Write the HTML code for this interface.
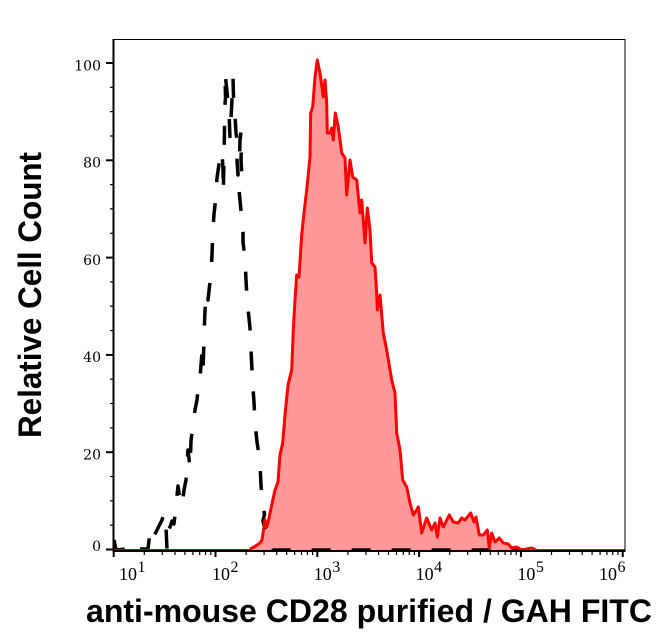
<!DOCTYPE html>
<html><head><meta charset="utf-8">
<style>
html,body{margin:0;padding:0;background:#fff;}
svg{display:block;}
</style></head>
<body>
<svg width="669" height="641" viewBox="0 0 669 641" xmlns="http://www.w3.org/2000/svg">
<rect width="669" height="641" fill="#fff"/>

<!-- red filled histogram -->
<polygon fill="#ff9999" stroke="none" points="250,551 250,549 254,547 257,545 260,543 262,540 265,520 266.7,527 268,523 271.7,505 275,490 278,482 280,455 282.7,443 285,415 288,385 291.7,370 293.3,330 295,300 296.7,275 299,277 301.7,235 304,213 306.7,190 310,157 310.7,113 312.7,107 315,77 317.3,60 320,73 323.3,97 325,80 326.7,103 327.3,133 330,133 331.7,128 333.3,140 335.3,113 338.3,127 341.7,153 345,158 346.7,195 350,160 352.7,177 356.7,180 360,213 361.7,200 365,243 367.3,208 370,230 371.7,263 375,267 376.7,293 377.3,310 380,295 383.3,333 386.7,350 391.7,380 395,393 396.7,433 400,450 402.7,480 406.7,487 410,503 413.3,515 416.7,510 418.3,507 421.7,533 426.7,518 431.7,530 435,523 437.3,537 440,518 443.3,527 449.3,515 453.3,522 458.3,523 461.7,518 465,520 470.7,513 474,522 476,517 479.3,535 483.3,535 487.3,530 489.3,548 491.7,533 495,542 499.3,538 503.3,543 508.3,544 511.7,548 516.7,547 521.7,550 531.7,548 536.7,551 625,551"/>

<!-- black dashed histogram -->
<polyline fill="none" stroke="#000" stroke-width="3.5" stroke-dasharray="19 21" stroke-linejoin="round" points="114,540 116,550 126,549 129,545 132,549 136,546 140,549 148,549 150,532 152,540 155,534 159,526 162,520 164,513 166,528 167,549 169,530 172,521 174,524 176,505 178,486 180,500 182,506 184,490 186,480 188,450 190,468 191,441 193,424 195,410 197,400 198,390 200,378 202,352 203,368 204,342 204.5,323 205,310 207,292 208,300 210,282 211,275 212,255 212.7,233 214,214 216,196 217,178 219,164 221,153 222,151 223,170 223.3,192 224,160 224.5,130 224.3,112 225.5,98 225,72 227,92 229,112 230,138 231,118 232,100 233,78 233.5,96 235,116 236,133 237.5,143 237,160 238,175 239.5,160 240,140 241,132 241.7,138 241,160 242,178 239,190 241.7,218 243,232 243,242 245,258 246,280 247.3,303 249,318 250,328 251,350 252,370 253,388 254,402 255,423 257,442 259,455 260,465 261,485 262.5,503 264.5,514 263,521 266.7,537 270,546 273,550 530,550"/>

<!-- dark red baseline at left -->
<line x1="114" y1="550.5" x2="252" y2="550.5" stroke="#a01010" stroke-width="3"/>

<!-- red line -->
<polyline fill="none" stroke="#ff0000" stroke-width="3" stroke-linejoin="round" points="250,549 254,547 257,545 260,543 262,540 265,520 266.7,527 268,523 271.7,505 275,490 278,482 280,455 282.7,443 285,415 288,385 291.7,370 293.3,330 295,300 296.7,275 299,277 301.7,235 304,213 306.7,190 310,157 310.7,113 312.7,107 315,77 317.3,60 320,73 323.3,97 325,80 326.7,103 327.3,133 330,133 331.7,128 333.3,140 335.3,113 338.3,127 341.7,153 345,158 346.7,195 350,160 352.7,177 356.7,180 360,213 361.7,200 365,243 367.3,208 370,230 371.7,263 375,267 376.7,293 377.3,310 380,295 383.3,333 386.7,350 391.7,380 395,393 396.7,433 400,450 402.7,480 406.7,487 410,503 413.3,515 416.7,510 418.3,507 421.7,533 426.7,518 431.7,530 435,523 437.3,537 440,518 443.3,527 449.3,515 453.3,522 458.3,523 461.7,518 465,520 470.7,513 474,522 476,517 479.3,535 483.3,535 487.3,530 489.3,548 491.7,533 495,542 499.3,538 503.3,543 508.3,544 511.7,548 516.7,547 521.7,550 531.7,548 536.7,550.5 625,550.5"/>

<!-- frame -->
<rect x="113.5" y="39.5" width="511.5" height="511.5" fill="none" stroke="#000" stroke-width="1"/>
<line x1="113.5" y1="39" x2="113.5" y2="552" stroke="#000" stroke-width="2"/>
<line x1="113" y1="551" x2="625.5" y2="551" stroke="#000" stroke-width="2"/>

<!-- y ticks -->
<g stroke="#000" stroke-width="2">
<line x1="106" y1="549.5" x2="113" y2="549.5"/>
<line x1="106" y1="452.2" x2="113" y2="452.2"/>
<line x1="106" y1="354.9" x2="113" y2="354.9"/>
<line x1="106" y1="257.6" x2="113" y2="257.6"/>
<line x1="106" y1="160.3" x2="113" y2="160.3"/>
<line x1="106" y1="63" x2="113" y2="63"/>
</g>
<g stroke="#000" stroke-width="1.2">
<line x1="110" y1="525.2" x2="113" y2="525.2"/><line x1="110" y1="500.8" x2="113" y2="500.8"/><line x1="110" y1="476.5" x2="113" y2="476.5"/>
<line x1="110" y1="427.9" x2="113" y2="427.9"/><line x1="110" y1="403.5" x2="113" y2="403.5"/><line x1="110" y1="379.2" x2="113" y2="379.2"/>
<line x1="110" y1="330.6" x2="113" y2="330.6"/><line x1="110" y1="306.2" x2="113" y2="306.2"/><line x1="110" y1="281.9" x2="113" y2="281.9"/>
<line x1="110" y1="233.3" x2="113" y2="233.3"/><line x1="110" y1="208.9" x2="113" y2="208.9"/><line x1="110" y1="184.6" x2="113" y2="184.6"/>
<line x1="110" y1="136" x2="113" y2="136"/><line x1="110" y1="111.6" x2="113" y2="111.6"/><line x1="110" y1="87.3" x2="113" y2="87.3"/>
</g>
<g font-family="'DejaVu Serif', 'Liberation Serif', serif" font-size="14" fill="#000" text-anchor="end">
<text x="101" y="551">0</text>
<text x="101" y="459.5">20</text>
<text x="101" y="362.2">40</text>
<text x="101" y="264.9">60</text>
<text x="101" y="167.6">80</text>
<text x="101" y="70.3">100</text>
</g>

<!-- x ticks -->
<g stroke="#000" stroke-width="2">
<line x1="113.7" y1="551" x2="113.7" y2="557"/>
<line x1="215.5" y1="551" x2="215.5" y2="557"/>
<line x1="317.3" y1="551" x2="317.3" y2="557"/>
<line x1="419.1" y1="551" x2="419.1" y2="557"/>
<line x1="520.9" y1="551" x2="520.9" y2="557"/>
<line x1="622.7" y1="551" x2="622.7" y2="557"/>
</g>
<g stroke="#000" stroke-width="1.2">
<line x1="144.3" y1="551" x2="144.3" y2="555"/><line x1="162.3" y1="551" x2="162.3" y2="555"/><line x1="175" y1="551" x2="175" y2="555"/><line x1="184.9" y1="551" x2="184.9" y2="555"/><line x1="192.9" y1="551" x2="192.9" y2="555"/><line x1="199.7" y1="551" x2="199.7" y2="555"/><line x1="205.6" y1="551" x2="205.6" y2="555"/><line x1="210.8" y1="551" x2="210.8" y2="555"/>
<line x1="246.1" y1="551" x2="246.1" y2="555"/><line x1="264.1" y1="551" x2="264.1" y2="555"/><line x1="276.8" y1="551" x2="276.8" y2="555"/><line x1="286.7" y1="551" x2="286.7" y2="555"/><line x1="294.7" y1="551" x2="294.7" y2="555"/><line x1="301.5" y1="551" x2="301.5" y2="555"/><line x1="307.4" y1="551" x2="307.4" y2="555"/><line x1="312.6" y1="551" x2="312.6" y2="555"/>
<line x1="347.9" y1="551" x2="347.9" y2="555"/><line x1="365.9" y1="551" x2="365.9" y2="555"/><line x1="378.6" y1="551" x2="378.6" y2="555"/><line x1="388.5" y1="551" x2="388.5" y2="555"/><line x1="396.5" y1="551" x2="396.5" y2="555"/><line x1="403.3" y1="551" x2="403.3" y2="555"/><line x1="409.2" y1="551" x2="409.2" y2="555"/><line x1="414.4" y1="551" x2="414.4" y2="555"/>
<line x1="449.7" y1="551" x2="449.7" y2="555"/><line x1="467.7" y1="551" x2="467.7" y2="555"/><line x1="480.4" y1="551" x2="480.4" y2="555"/><line x1="490.3" y1="551" x2="490.3" y2="555"/><line x1="498.3" y1="551" x2="498.3" y2="555"/><line x1="505.1" y1="551" x2="505.1" y2="555"/><line x1="511" y1="551" x2="511" y2="555"/><line x1="516.2" y1="551" x2="516.2" y2="555"/>
<line x1="551.5" y1="551" x2="551.5" y2="555"/><line x1="569.5" y1="551" x2="569.5" y2="555"/><line x1="582.2" y1="551" x2="582.2" y2="555"/><line x1="592.1" y1="551" x2="592.1" y2="555"/><line x1="600.1" y1="551" x2="600.1" y2="555"/><line x1="606.9" y1="551" x2="606.9" y2="555"/><line x1="612.8" y1="551" x2="612.8" y2="555"/><line x1="618" y1="551" x2="618" y2="555"/>
</g>
<g font-family="'Liberation Serif', serif" fill="#000">
<text x="119" y="580" font-size="18">10</text><text x="137.5" y="572" font-size="16">1</text>
<text x="212" y="580" font-size="18">10</text><text x="230.5" y="572" font-size="16">2</text>
<text x="313.8" y="580" font-size="18">10</text><text x="332.3" y="572" font-size="16">3</text>
<text x="415.6" y="580" font-size="18">10</text><text x="434.1" y="572" font-size="16">4</text>
<text x="517.4" y="580" font-size="18">10</text><text x="535.9" y="572" font-size="16">5</text>
<text x="599" y="580" font-size="18">10</text><text x="617.5" y="572" font-size="16">6</text>
</g>

<!-- axis titles -->
<text x="86" y="622" font-family="'Liberation Sans', sans-serif" font-weight="bold" font-size="32" fill="#000" textLength="566" lengthAdjust="spacingAndGlyphs">anti-mouse CD28 purified / GAH FITC</text>
<text transform="translate(41,438) rotate(-90)" x="0" y="0" font-family="'Liberation Sans', sans-serif" font-weight="bold" font-size="32" fill="#000" textLength="286" lengthAdjust="spacingAndGlyphs">Relative Cell Count</text>
</svg>
</body></html>
